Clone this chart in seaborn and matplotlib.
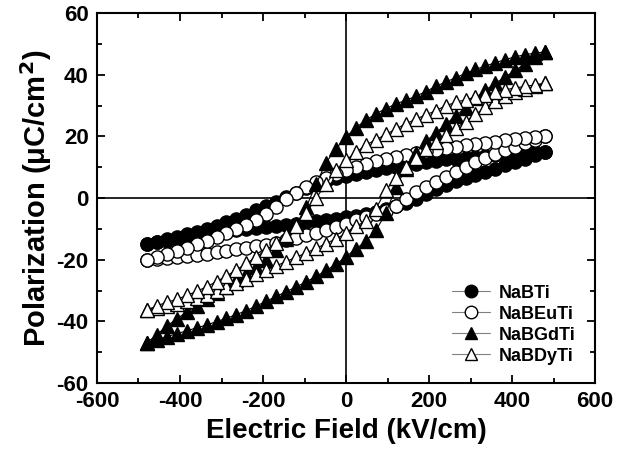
import matplotlib
matplotlib.use("Agg")
import matplotlib.pyplot as plt
from matplotlib.ticker import MultipleLocator
import pandas as pd
import seaborn as sns

# Electric field grid (kV/cm)
field = [-480, -456, -432, -408, -384, -360, -336, -312, -288, -264, -240,
         -216, -192, -168, -144, -120, -96, -72, -48, -24, 0,
         24, 48, 72, 96, 120, 144, 168, 192, 216, 240,
         264, 288, 312, 336, 360, 384, 408, 432, 456, 480]

# Polarization (uC/cm2): ascending-field branch and descending-field branch (both listed along field)
nabti_asc = [-15.0, -14.4, -13.9, -13.3, -12.8, -12.3, -11.8, -11.3, -10.9, -10.5, -10.2,
             -9.8, -9.4, -9.0, -8.7, -8.3, -7.9, -7.5, -7.1, -6.7, -6.3,
             -5.8, -5.2, -4.5, -3.7, -2.7, -1.6, -0.4, 1.2, 2.8, 4.2,
             5.4, 6.5, 7.5, 8.5, 9.5, 10.6, 11.7, 12.8, 13.9, 15.0]
nabti_desc = [-15.0, -14.2, -13.4, -12.6, -11.8, -10.9, -10.0, -9.0, -7.9, -6.7, -5.4,
              -4.0, -2.6, -1.2, 0.2, 1.6, 3.1, 4.4, 5.5, 6.4, 7.1,
              7.8, 8.5, 9.1, 9.6, 10.1, 10.6, 11.1, 11.6, 12.1, 12.5,
              12.8, 13.1, 13.4, 13.7, 13.9, 14.1, 14.3, 14.5, 14.8, 15.0]

nabeuti_asc = [-20.0, -19.8, -19.5, -19.1, -18.8, -18.4, -18.0, -17.6, -17.1, -16.7, -16.2,
               -15.7, -15.1, -14.5, -13.7, -12.9, -12.1, -11.2, -10.3, -9.3, -8.3,
               -7.1, -6.0, -5.1, -4.1, -2.6, -0.4, 1.8, 3.5, 5.2, 6.8,
               8.5, 10.1, 11.7, 13.0, 14.3, 15.6, 16.7, 17.8, 18.9, 20.0]
nabeuti_desc = [-20.0, -19.0, -18.0, -17.3, -16.3, -15.0, -13.8, -12.6, -11.4, -10.0, -8.6,
                -7.1, -5.2, -3.0, -0.3, 1.7, 3.5, 5.1, 6.6, 7.9, 9.0,
                10.1, 11.0, 11.9, 12.6, 13.3, 13.9, 14.5, 15.1, 15.7, 16.3,
                16.7, 17.1, 17.5, 17.9, 18.3, 18.7, 19.1, 19.4, 19.7, 20.0]

nabgdti_asc = [-47.0, -46.0, -45.0, -44.0, -43.1, -42.1, -41.2, -40.1, -39.0, -37.8, -36.5,
               -35.0, -33.5, -31.9, -30.4, -28.8, -27.2, -25.4, -23.5, -21.5, -19.0,
               -16.5, -14.0, -10.5, -5.0, 3.5, 9.5, 14.5, 18.4, 21.0, 23.9,
               26.6, 29.3, 32.4, 35.0, 37.2, 39.3, 41.4, 43.6, 45.6, 47.4]
nabgdti_desc = [-47.0, -44.3, -41.6, -39.2, -37.0, -34.9, -32.8, -30.8, -28.8, -26.7, -24.6,
                -22.4, -20.0, -17.0, -13.2, -8.5, -3.0, 4.5, 11.5, 16.0, 19.8,
                22.8, 25.3, 27.3, 29.0, 30.5, 31.7, 33.0, 34.5, 36.2, 37.6,
                39.0, 40.4, 41.7, 42.8, 43.9, 44.9, 45.8, 46.5, 47.0, 47.4]

nabdyti_asc = [-36.3, -35.8, -35.1, -34.3, -33.4, -32.4, -31.3, -30.1, -28.9, -27.6, -26.2,
               -24.8, -23.4, -22.0, -20.6, -19.2, -17.8, -16.3, -14.8, -13.2, -11.5,
               -9.2, -7.4, -3.5, 2.5, 6.5, 10.0, 13.0, 15.8, 18.3, 20.4,
               22.6, 24.8, 27.1, 29.4, 31.4, 33.0, 34.3, 35.3, 36.2, 37.3]
nabdyti_desc = [-36.3, -35.0, -33.8, -32.9, -31.6, -30.3, -28.8, -27.1, -25.3, -23.3, -21.2,
                -19.1, -16.8, -14.5, -12.0, -9.0, -5.0, 0.0, 4.6, 9.0, 12.3,
                14.8, 17.2, 18.9, 20.6, 22.4, 24.0, 25.6, 26.9, 28.3, 29.9,
                31.0, 31.9, 32.7, 33.5, 34.3, 35.1, 35.7, 36.2, 36.7, 37.3]

names = ["NaBTi", "NaBEuTi", "NaBGdTi", "NaBDyTi"]
asc = [nabti_asc, nabeuti_asc, nabgdti_asc, nabdyti_asc]
desc = [nabti_desc, nabeuti_desc, nabgdti_desc, nabdyti_desc]
markers = ["o", "o", "^", "^"]
faces = ["black", "white", "black", "white"]
sizes = [9.5, 9.5, 10, 10]

sns.set_style("ticks")
plt.rcParams["font.family"] = ["Liberation Sans", "DejaVu Sans"]
plt.rcParams["font.weight"] = "bold"
plt.rcParams["axes.unicode_minus"] = False
for k in ["text.color", "axes.labelcolor", "xtick.color", "ytick.color", "axes.edgecolor"]:
    plt.rcParams[k] = "black"

fig = plt.figure(figsize=(6.41, 4.54), dpi=100)
ax = fig.add_axes([97 / 641, 1 - 383 / 454, 498 / 641, 370 / 454])

ax.axhline(0, color="black", lw=1.2, zorder=1)
ax.axvline(0, color="black", lw=1.2, zorder=1)

for i, name in enumerate(names):
    df = pd.DataFrame({
        "E": field + field[::-1],
        "P": asc[i] + desc[i][::-1],
    })
    sns.lineplot(data=df, x="E", y="P", sort=False, estimator=None, ax=ax,
                 color="black", linewidth=0.8, marker=markers[i],
                 markerfacecolor=faces[i], markeredgecolor="black",
                 markeredgewidth=1.0, markersize=sizes[i], label=name,
                 zorder=2 + i)

ax.set_xlim(-600, 600)
ax.set_ylim(-60, 60)
ax.set_xticks(range(-600, 601, 200))
ax.set_yticks(range(-60, 61, 20))
ax.xaxis.set_minor_locator(MultipleLocator(100))
ax.yaxis.set_minor_locator(MultipleLocator(10))
ax.tick_params(which="both", direction="in", top=True, right=True, width=1.3,
               labelsize=16, pad=6, colors="black")
ax.tick_params(which="major", length=6)
ax.tick_params(which="minor", length=3.5)
for lab in ax.get_xticklabels() + ax.get_yticklabels():
    lab.set_fontweight("bold")
for sp in ax.spines.values():
    sp.set_linewidth(1.5)
    sp.set_color("black")

ax.set_xlabel("Electric Field (kV/cm)", fontsize=20, fontweight="bold", labelpad=4, color="black")
ax.set_ylabel("Polarization (\u03bcC/cm$^\\mathbf{2}$)", fontsize=21, fontweight="bold", labelpad=2, color="black")

leg = ax.legend(loc="lower right", bbox_to_anchor=(0.975, 0.03), frameon=False,
                prop={"weight": "bold", "size": 13}, handlelength=2.1,
                handletextpad=0.5, labelspacing=0.22, borderaxespad=0)
for h in leg.legend_handles:
    h.set_linewidth(0.8)
    h.set_color("gray")
    h.set_markeredgecolor("black")
    h.set_markersize(9)
for t in leg.get_texts():
    t.set_color("black")

fig.savefig("out.png", dpi=100)
